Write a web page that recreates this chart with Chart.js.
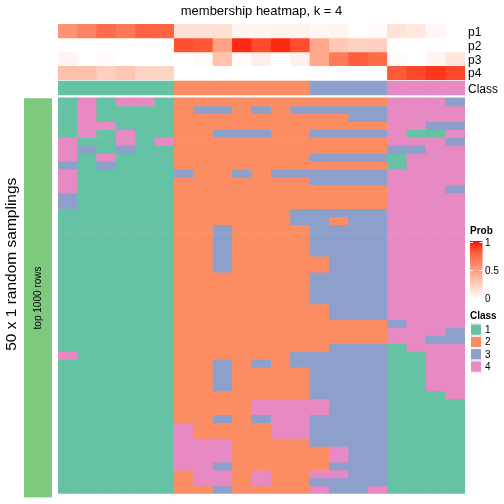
<!DOCTYPE html>
<html>
<head>
<meta charset="utf-8">
<title>membership heatmap, k = 4</title>
<script src="https://cdn.jsdelivr.net/npm/chart.js@4.4.1/dist/chart.umd.min.js"></script>
<style>
  body { margin: 0; background: #fff; }
  #wrap { position: relative; width: 504px; height: 504px; }
  canvas { position: absolute; left: 0; top: 0; }
</style>
</head>
<body>
<div id="wrap">
  <canvas id="heat" width="504" height="504"></canvas>
  <canvas id="side" width="60" height="504"></canvas>
</div>
<script>
'use strict';

// samples (columns), ordered as in the picture
const sampleIds = ['1','2','3','4','5','6','7','8','9','10','11','12','13','14','15','16','17','18','19','20','21'];
// consensus class of each sample
const consensusClass = [1,1,1,1,1,1,2,2,2,2,2,2,2,3,3,3,3,4,4,4,4];
// membership probabilities
const p1 = [0.55,0.63,0.73,0.68,0.77,0.77,0.16,0.16,0.17,0.05,0.05,0.07,0.07,0.04,0.06,0,0.03,0.15,0.12,0.04,0];
const p2 = [0,0,0,0,0,0,0.84,0.82,0.48,0.95,0.86,0.95,0.85,0.45,0.29,0.24,0.24,0,0,0,0];
const p3 = [0.06,0,0.02,0,0,0,0,0.03,0.32,0.02,0.09,0,0.08,0.45,0.67,0.79,0.74,0.02,0,0.05,0.13];
const p4 = [0.33,0.33,0.25,0.3,0.23,0.23,0,0,0,0,0,0,0,0,0,0,0,0.8,0.87,0.92,0.87];
// class of each sample in each of the 50 random samplings (one string per row)
const samplingRows = [
  '141441222222222224443',
  '141111233232333334444',
  '141111222222222334444',
  '144111222222222224433',
  '141411223332233334114',
  '411414222222222224443',
  '431311222222222223344',
  '414111222222233331444',
  '313111222222222221444',
  '411111322323333334444',
  '411111222222233334444',
  '411111222222222224443',
  '311111222222222224444',
  '311111222222222224444',
  '111111222222333334444',
  '111111222222332334444',
  '111111223222233334444',
  '111111223222233334444',
  '111111223222233334444',
  '111111223222233334444',
  '111111223222223334444',
  '111111223222223334444',
  '111111222222233334444',
  '111111222222233334444',
  '111111222222233334444',
  '111111222222233334444',
  '111111222222223334444',
  '111111222222223334444',
  '111111222222222223444',
  '111111222222222224443',
  '111111222222222224433',
  '111111222222223331444',
  '411111222222333331144',
  '111111223232333331144',
  '111111223222233331144',
  '111111223222233331144',
  '111111223222233331144',
  '111111222222233331114',
  '111111222244443331111',
  '111111222244443331111',
  '111111223234433331111',
  '111111422224433331111',
  '111111422224433331111',
  '111111444222233331111',
  '111111444222224331111',
  '111111444222224331111',
  '111111443222223331111',
  '111111244242244331111',
  '111111244242233331111',
  '111111223222243341111'
];
const classLevels = ['1','2','3','4'];
const probBreaks = [0, 0.5, 1];

const FONT = '"Liberation Sans", Arial, Helvetica, sans-serif';
Chart.defaults.font.family = FONT;
Chart.defaults.color = '#000';

const classColors = { 1: '#66C2A5', 2: '#FC8D62', 3: '#8DA0CB', 4: '#E78AC3' };
const sideColor = '#7FC97F';

// white -> red colour ramp, interpolated in LAB
function toLinear(c) { c /= 255; return c <= 0.04045 ? c / 12.92 : Math.pow((c + 0.055) / 1.055, 2.4); }
function fromLinear(v) {
  v = Math.min(1, Math.max(0, v));
  return Math.round(255 * (v <= 0.0031308 ? 12.92 * v : 1.055 * Math.pow(v, 1 / 2.4) - 0.055));
}
const WX = 0.95047, WY = 1, WZ = 1.08883;
function rgbToLab(rgb) {
  const [r, g, b] = rgb.map(toLinear);
  const x = (0.4124 * r + 0.3576 * g + 0.1805 * b) / WX;
  const y = (0.2126 * r + 0.7152 * g + 0.0722 * b) / WY;
  const z = (0.0193 * r + 0.1192 * g + 0.9505 * b) / WZ;
  const f = t => t > 0.008856 ? Math.cbrt(t) : 7.787 * t + 16 / 116;
  const fx = f(x), fy = f(y), fz = f(z);
  return [116 * fy - 16, 500 * (fx - fy), 200 * (fy - fz)];
}
function labToRgb(lab) {
  const fy = (lab[0] + 16) / 116, fx = fy + lab[1] / 500, fz = fy - lab[2] / 200;
  const inv = t => t * t * t > 0.008856 ? t * t * t : (t - 16 / 116) / 7.787;
  const x = inv(fx) * WX, y = inv(fy) * WY, z = inv(fz) * WZ;
  const r = 3.2406 * x - 1.5372 * y - 0.4986 * z;
  const g = -0.9689 * x + 1.8758 * y + 0.0415 * z;
  const b = 0.0557 * x - 0.2040 * y + 1.0570 * z;
  return [fromLinear(r), fromLinear(g), fromLinear(b)];
}
const LAB_LOW = rgbToLab([255, 255, 255]);
const LAB_HIGH = rgbToLab([255, 0, 0]);
function probColor(v) {
  const lab = LAB_LOW.map((lo, i) => lo + (LAB_HIGH[i] - lo) * v);
  const c = labToRgb(lab);
  return 'rgb(' + c[0] + ',' + c[1] + ',' + c[2] + ')';
}

// layout: heatmap rows are 1 unit each, top annotation tracks sit above row 0
const HEAT_TOP = 98.5, ROW_H = 7.98;
const toUnit = px => (px - HEAT_TOP) / ROW_H;
const tracks = [
  { label: 'p1', values: p1, from: 24, to: 38 },
  { label: 'p2', values: p2, from: 38, to: 52 },
  { label: 'p3', values: p3, from: 52, to: 66 },
  { label: 'p4', values: p4, from: 66, to: 80 },
  { label: 'Class', values: consensusClass, from: 81.5, to: 95.5, isClass: true }
];

const cellOpts = { grouped: false, barPercentage: 1, categoryPercentage: 1, borderWidth: 0, inflateAmount: 0.35 };
const datasets = [];
tracks.forEach(t => {
  datasets.push(Object.assign({
    label: t.label,
    data: t.values.map(() => [toUnit(t.from), toUnit(t.to)]),
    backgroundColor: t.values.map(v => t.isClass ? classColors[v] : probColor(v))
  }, cellOpts));
});
samplingRows.forEach((row, r) => {
  const cls = row.split('').map(Number);
  datasets.push(Object.assign({
    label: 'sampling ' + (r + 1),
    data: cls.map(() => [r, r + 1]),
    backgroundColor: cls.map(c => classColors[c])
  }, cellOpts));
});

// legends on the right
const sideLegend = {
  id: 'sideLegend',
  afterDraw(chart) {
    const ctx = chart.ctx;
    ctx.save();
    ctx.textAlign = 'left';
    ctx.textBaseline = 'middle';
    ctx.fillStyle = '#000';
    ctx.font = 'bold 10px ' + FONT;
    ctx.fillText('Prob', 470, 231);

    const barX = 470, barW = 12.5, barTop = 241, barBottom = 299;
    const grad = ctx.createLinearGradient(0, barBottom, 0, barTop);
    for (let i = 0; i <= 10; i++) grad.addColorStop(i / 10, probColor(i / 10));
    ctx.fillStyle = grad;
    ctx.fillRect(barX, barTop, barW, barBottom - barTop);

    ctx.font = '10px ' + FONT;
    probBreaks.forEach(v => {
      const y = 298.5 - v * 56;
      ctx.strokeStyle = '#fff';
      ctx.lineWidth = 1;
      ctx.beginPath();
      ctx.moveTo(barX, y); ctx.lineTo(barX + 3, y);
      ctx.moveTo(barX + barW - 3, y); ctx.lineTo(barX + barW, y);
      ctx.stroke();
      ctx.fillStyle = '#000';
      ctx.fillText(String(v), 485, y + 0.5);
    });

    ctx.font = 'bold 10px ' + FONT;
    ctx.fillText('Class', 470, 316.5);
    ctx.font = '10px ' + FONT;
    const sq = 12.3;
    classLevels.forEach((lv, i) => {
      const y = 323.5 + i * sq;
      ctx.fillStyle = classColors[lv];
      ctx.fillRect(470, y, 12, sq);
      ctx.strokeStyle = '#fff';
      ctx.lineWidth = 1;
      ctx.strokeRect(470.5, y + 0.5, 11, sq - 1);
      ctx.fillStyle = '#000';
      ctx.fillText(lv, 485, y + sq / 2 + 0.5);
    });
    ctx.restore();
  }
};

new Chart(document.getElementById('heat'), {
  type: 'bar',
  data: { labels: sampleIds, datasets: datasets },
  options: {
    responsive: false,
    animation: false,
    layout: { padding: { left: 58, right: 0, top: 0, bottom: 6.5 } },
    plugins: {
      legend: { display: false },
      tooltip: { enabled: false },
      title: {
        display: true,
        fullSize: false,
        text: 'membership heatmap, k = 4',
        color: '#000',
        font: { size: 13, weight: 'normal' },
        padding: { top: 3.9, bottom: 4.5 }
      }
    },
    scales: {
      x: { display: false, offset: true },
      y: {
        type: 'linear',
        position: 'right',
        reverse: true,
        min: toUnit(24),
        max: samplingRows.length,
        grid: { display: false, drawTicks: false },
        border: { display: false },
        afterBuildTicks: s => { s.ticks = tracks.map(t => ({ value: (toUnit(t.from) + toUnit(t.to)) / 2 })); },
        afterFit: s => { s.width = 39; },
        ticks: {
          autoSkip: false,
          padding: 3,
          labelOffset: 1.5,
          color: '#000',
          font: { size: 12 },
          callback: (v, i) => tracks[i].label
        }
      }
    }
  },
  plugins: [sideLegend]
});

// text inside the left bar
const barText = {
  id: 'barText',
  afterDatasetsDraw(chart) {
    const el = chart.getDatasetMeta(0).data[0];
    const ctx = chart.ctx;
    ctx.save();
    ctx.translate(el.x, (el.y + el.base) / 2);
    ctx.rotate(-Math.PI / 2);
    ctx.textAlign = 'center';
    ctx.textBaseline = 'middle';
    ctx.fillStyle = '#000';
    ctx.font = '10px ' + FONT;
    ctx.fillText(chart.data.labels[0], 0, 0);
    ctx.restore();
  }
};

new Chart(document.getElementById('side'), {
  type: 'bar',
  data: {
    labels: ['top 1000 rows'],
    datasets: [{ data: [[0, samplingRows.length]], backgroundColor: sideColor, barPercentage: 1, categoryPercentage: 1, borderWidth: 0 }]
  },
  options: {
    responsive: false,
    animation: false,
    layout: { padding: { left: 2, right: 8, top: 31, bottom: 6.5 } },
    plugins: { legend: { display: false }, tooltip: { enabled: false } },
    scales: {
      x: { display: false },
      y: {
        reverse: true,
        min: toUnit(31),
        max: samplingRows.length,
        ticks: { display: false },
        grid: { display: false, drawTicks: false },
        border: { display: false },
        title: { display: true, text: '50 x 1 random samplings', color: '#000', font: { size: 15.5 }, padding: 0 },
        afterFit: s => { s.width = 22; }
      }
    }
  },
  plugins: [barText]
});
</script>
</body>
</html>
